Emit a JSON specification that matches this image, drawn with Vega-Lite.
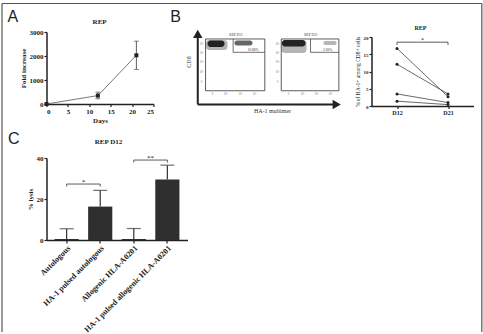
{
  "$schema": "https://vega.github.io/schema/vega-lite/v6.json",
  "background": "white",
  "padding": {"left": 0.5, "top": 2, "right": 0, "bottom": 0},
  "bounds": "flush",
  "spacing": 126,
  "config": {
    "view": {"stroke": null},
    "font": "Liberation Serif",
    "axis": {"grid": false, "domainColor": "#222", "domainWidth": 1.5, "tickColor": "#222", "tickWidth": 1.2, "tickSize": 2.5, "labelColor": "#222", "titleColor": "#222", "labelFont": "Liberation Serif", "titleFont": "Liberation Serif", "labelFontWeight": "bold", "titleFontWeight": "bold", "labelPadding": 1, "labelFontSize": 7, "titleFontSize": 7},
    "text": {"font": "Liberation Serif", "color": "#222"}
  },
  "vconcat": [
    {
      "hconcat": [
        {
          "width": 107, "height": 72,
          "data": {"values": [
            {"day": 0, "fold": 1, "lo": null, "hi": null},
            {"day": 12, "fold": 350, "lo": 215, "hi": 495},
            {"day": 21, "fold": 2030, "lo": 1440, "hi": 2620}
          ]},
          "encoding": {
            "x": {"field": "day", "type": "quantitative", "scale": {"domain": [0, 25], "nice": false}, "axis": {"values": [0, 5, 10, 15, 20, 25], "title": "Days", "titlePadding": 2}},
            "y": {"field": "fold", "type": "quantitative", "scale": {"domain": [0, 3000], "nice": false}, "axis": {"values": [0, 1000, 2000, 3000], "format": "d", "title": "Fold increase", "titlePadding": 3}}
          },
          "layer": [
            {"mark": {"type": "line", "color": "#555", "strokeWidth": 0.8}},
            {"transform": [{"filter": "datum.lo != null"}], "mark": {"type": "rule", "color": "#333", "strokeWidth": 0.8}, "encoding": {"y": {"field": "lo", "type": "quantitative"}, "y2": {"field": "hi"}}},
            {"transform": [{"filter": "datum.lo != null"}], "mark": {"type": "tick", "orient": "horizontal", "size": 5, "thickness": 0.8, "color": "#333"}, "encoding": {"y": {"field": "lo", "type": "quantitative"}}},
            {"transform": [{"filter": "datum.lo != null"}], "mark": {"type": "tick", "orient": "horizontal", "size": 5, "thickness": 0.8, "color": "#333"}, "encoding": {"y": {"field": "hi", "type": "quantitative"}}},
            {"mark": {"type": "square", "filled": true, "size": 16, "color": "#222", "opacity": 1}},
            {"data": {"values": [{"day": -7.87, "fold": 3429, "t": "A"}]}, "mark": {"type": "text", "font": "Liberation Sans", "fontSize": 16, "baseline": "alphabetic", "align": "center", "color": "#222"}, "encoding": {"text": {"field": "t"}}},
            {"data": {"values": [{"day": 12.4, "fold": 3354, "t": "REP"}]}, "mark": {"type": "text", "fontSize": 7, "fontWeight": "bold", "baseline": "alphabetic", "align": "center", "color": "#222"}, "encoding": {"text": {"field": "t"}}}
          ]
        },
        {
          "width": 166, "height": 85,
          "encoding": {
            "x": {"field": "x", "type": "quantitative", "scale": {"domain": [0, 100], "nice": false, "zero": false}, "axis": null},
            "y": {"field": "y", "type": "quantitative", "scale": {"domain": [0, 100], "nice": false, "zero": false}, "axis": null}
          },
          "layer": [
            {"data": {"values": [{"x": 15.96, "x2": 28.9, "y": 78.8, "y2": 90.6}, {"x": 61.4, "x2": 76.5, "y": 75.3, "y2": 90.6}, {"x": 86.7, "x2": 94.6, "y": 84.7, "y2": 89.4}]},
             "mark": {"type": "rect", "fill": "#b5b5b5", "cornerRadius": 3}, "encoding": {"x2": {"field": "x2"}, "y2": {"field": "y2"}}},
            {"data": {"values": [{"x": 33.1, "x2": 44.0, "y": 84.1, "y2": 90.0}]},
             "mark": {"type": "rect", "fill": "#666", "cornerRadius": 3}, "encoding": {"x2": {"field": "x2"}, "y2": {"field": "y2"}}},
            {"data": {"values": [{"x": 16.9, "x2": 27.1, "y": 82.4, "y2": 90.0}, {"x": 61.7, "x2": 75.9, "y": 82.9, "y2": 90.6}]},
             "mark": {"type": "rect", "fill": "#222", "cornerRadius": 3}, "encoding": {"x2": {"field": "x2"}, "y2": {"field": "y2"}}},
            {"data": {"values": [{"x": 15.7, "x2": 51.4, "y": 30.9, "y2": 91.8}, {"x": 61.3, "x2": 96.0, "y": 30.9, "y2": 91.8}]},
             "mark": {"type": "rect", "filled": false, "stroke": "#333", "strokeWidth": 0.8}, "encoding": {"x2": {"field": "x2"}, "y2": {"field": "y2"}}},
            {"data": {"values": [{"x": 32.3, "y": 91.8, "x2": 32.3, "y2": 76.1}, {"x": 32.3, "y": 76.1, "x2": 51.4, "y2": 76.1}, {"x": 78.9, "y": 91.8, "x2": 78.9, "y2": 76.1}, {"x": 78.9, "y": 76.1, "x2": 96.0, "y2": 76.1}]},
             "mark": {"type": "rule", "color": "#333", "strokeWidth": 0.7}, "encoding": {"x2": {"field": "x2"}, "y2": {"field": "y2"}}},
            {"data": {"values": [{"x": 11.0, "y": 14.7, "x2": 11.0, "y2": 96.5}, {"x": 11.0, "y": 14.7, "x2": 93.4, "y2": 14.7}]},
             "mark": {"type": "rule", "color": "#222", "strokeWidth": 2}, "encoding": {"x2": {"field": "x2"}, "y2": {"field": "y2"}}},
            {"data": {"values": [{"x": 11.0, "y": 97.9}]}, "mark": {"type": "point", "shape": "triangle-up", "filled": true, "size": 90, "color": "#222", "opacity": 1}},
            {"data": {"values": [{"x": 94.7, "y": 14.7}]}, "mark": {"type": "point", "shape": "triangle-right", "filled": true, "size": 90, "color": "#222", "opacity": 1}},
            {"data": {"values": [{"x": 34.0, "y": 96.8, "t": "REP D12"}, {"x": 79.1, "y": 96.8, "t": "REP D21"}, {"x": 44.3, "y": 78.8, "t": "16.80%"}, {"x": 89.2, "y": 78.8, "t": "2.60%"}]},
             "mark": {"type": "text", "fontSize": 3.5, "baseline": "middle", "color": "#333"}, "encoding": {"text": {"field": "t"}}},
            {"data": {"values": [
              {"x": 13.3, "y": 85.9, "t": "10⁴"}, {"x": 13.3, "y": 75.3, "t": "10³"}, {"x": 13.3, "y": 64.7, "t": "10²"}, {"x": 13.3, "y": 52.9, "t": "10¹"}, {"x": 13.3, "y": 41.2, "t": "0"},
              {"x": 19.9, "y": 27.1, "t": "0"}, {"x": 27.7, "y": 27.1, "t": "10²"}, {"x": 36.7, "y": 27.1, "t": "10³"}, {"x": 45.2, "y": 27.1, "t": "10⁴"},
              {"x": 59.0, "y": 85.9, "t": "10⁴"}, {"x": 59.0, "y": 75.3, "t": "10³"}, {"x": 59.0, "y": 64.7, "t": "10²"}, {"x": 59.0, "y": 52.9, "t": "10¹"}, {"x": 59.0, "y": 41.2, "t": "0"},
              {"x": 65.7, "y": 27.1, "t": "0"}, {"x": 74.1, "y": 27.1, "t": "10²"}, {"x": 82.5, "y": 27.1, "t": "10³"}, {"x": 91.0, "y": 27.1, "t": "10⁴"}
            ]},
             "mark": {"type": "text", "fontSize": 3, "baseline": "middle", "color": "#777"}, "encoding": {"text": {"field": "t"}}},
            {"data": {"values": [{"x": 5.7, "y": 64.7, "t": "CD8"}]}, "mark": {"type": "text", "fontSize": 6, "angle": 270, "baseline": "middle", "color": "#333"}, "encoding": {"text": {"field": "t"}}},
            {"data": {"values": [{"x": 56.0, "y": 7.1, "t": "HA-1 multimer"}]}, "mark": {"type": "text", "fontSize": 6, "baseline": "middle", "color": "#333"}, "encoding": {"text": {"field": "t"}}},
            {"data": {"values": [{"x": -2.4, "y": 112.1, "t": "B"}]}, "mark": {"type": "text", "font": "Liberation Sans", "fontSize": 16, "baseline": "alphabetic", "align": "center", "color": "#222"}, "encoding": {"text": {"field": "t"}}}
          ]
        },
        {
          "bounds": "flush",
          "spacing": 0,
          "vconcat": [
            {"width": 102, "height": 5, "data": {"values": [{}]}, "mark": {"type": "point", "opacity": 0}},
            {
              "width": 102, "height": 69,
              "data": {"values": [
                {"donor": "1", "day": 12, "pct": 16.7}, {"donor": "1", "day": 21, "pct": 2.7},
                {"donor": "2", "day": 12, "pct": 12.1}, {"donor": "2", "day": 21, "pct": 3.5},
                {"donor": "3", "day": 12, "pct": 3.5}, {"donor": "3", "day": 21, "pct": 1.0},
                {"donor": "4", "day": 12, "pct": 1.4}, {"donor": "4", "day": 21, "pct": 0.4}
              ]},
              "encoding": {
                "x": {"field": "day", "type": "quantitative", "scale": {"domain": [7.5, 25.5], "nice": false, "zero": false}, "axis": {"values": [12, 21], "labelExpr": "'D' + datum.value", "title": null, "labelFontSize": 6, "tickSize": 2.5}},
                "y": {"field": "pct", "type": "quantitative", "scale": {"domain": [0, 20], "nice": false}, "axis": {"values": [0, 5, 10, 15, 20], "labelFontSize": 5, "title": "% of HA-1+ among CD8+ cells", "titleFontSize": 5.5, "titleFontWeight": "normal", "titlePadding": 3}}
              },
              "layer": [
                {"mark": {"type": "line", "color": "#444", "strokeWidth": 0.8}, "encoding": {"detail": {"field": "donor"}}},
                {"mark": {"type": "circle", "size": 9, "color": "#222", "opacity": 1}},
                {"data": {"values": [{"a": 12, "b": 21, "y": 18.5, "yl": 17.7, "m": 16.5, "t": "*"}]},
                 "layer": [
                   {"mark": {"type": "rule", "color": "#333", "strokeWidth": 0.8}, "encoding": {"x": {"field": "a", "type": "quantitative"}, "x2": {"field": "b"}, "y": {"field": "y", "type": "quantitative"}}},
                   {"mark": {"type": "rule", "color": "#333", "strokeWidth": 0.8}, "encoding": {"x": {"field": "a", "type": "quantitative"}, "y": {"field": "y", "type": "quantitative"}, "y2": {"field": "yl"}}},
                   {"mark": {"type": "rule", "color": "#333", "strokeWidth": 0.8}, "encoding": {"x": {"field": "b", "type": "quantitative"}, "y": {"field": "y", "type": "quantitative"}, "y2": {"field": "yl"}}},
                   {"mark": {"type": "text", "fontSize": 6, "baseline": "alphabetic"}, "encoding": {"x": {"field": "m", "type": "quantitative"}, "y": {"field": "y", "type": "quantitative"}, "text": {"field": "t"}}}
                 ]},
                {"data": {"values": [{"day": 16.15, "pct": 22.0, "t": "REP"}]}, "mark": {"type": "text", "fontSize": 6, "fontWeight": "bold", "baseline": "alphabetic", "align": "center", "color": "#222"}, "encoding": {"text": {"field": "t"}}}
              ]
            }
          ]
        }
      ],
      "spacing": 26,
      "bounds": "flush"
    },
    {
      "width": 141, "height": 82,
      "resolve": {"scale": {"x": "independent"}},
      "layer": [
        {
          "data": {"values": [
            {"cond": "Autologous", "lysis": 0.5, "hi": 5.5},
            {"cond": "HA-1 pulsed autologous", "lysis": 16.3, "hi": 24.2},
            {"cond": "Allogenic HLA-A0201", "lysis": 0.5, "hi": 5.6},
            {"cond": "HA-1 pulsed allogenic HLA-A0201", "lysis": 29.5, "hi": 36.5}
          ]},
          "encoding": {
            "x": {"field": "cond", "type": "nominal", "sort": null, "scale": {"paddingInner": 0.28, "paddingOuter": 0.24}, "axis": {"title": null, "labelAngle": -45, "labelFontSize": 8, "tickSize": 3}},
            "y": {"field": "lysis", "type": "quantitative", "scale": {"domain": [0, 40], "nice": false}, "axis": {"values": [0, 10, 20, 30, 40], "title": "% lysis", "titlePadding": 3}}
          },
          "layer": [
            {"mark": {"type": "bar", "color": "#2f2f2f"}},
            {"mark": {"type": "rule", "color": "#333", "strokeWidth": 1.2}, "encoding": {"y2": {"field": "hi"}}},
            {"mark": {"type": "tick", "orient": "horizontal", "size": 14, "thickness": 1.2, "color": "#333"}, "encoding": {"y": {"field": "hi", "type": "quantitative"}}}
          ]
        },
        {
          "encoding": {
            "x": {"field": "x", "type": "quantitative", "scale": {"domain": [0, 4.2], "nice": false, "zero": false}, "axis": null}
          },
          "layer": [
            {"data": {"values": [{"x": 0.6, "b": 1.6, "y": 27.3, "yl": 26.1, "m": 1.1, "t": "*"}, {"x": 2.6, "b": 3.6, "y": 39.0, "yl": 37.8, "m": 3.1, "t": "**"}]},
             "layer": [
               {"mark": {"type": "rule", "color": "#333", "strokeWidth": 0.8}, "encoding": {"x2": {"field": "b"}, "y": {"field": "y", "type": "quantitative"}}},
               {"mark": {"type": "rule", "color": "#333", "strokeWidth": 0.8}, "encoding": {"y": {"field": "y", "type": "quantitative"}, "y2": {"field": "yl"}}},
               {"mark": {"type": "rule", "color": "#333", "strokeWidth": 0.8}, "encoding": {"x": {"field": "b", "type": "quantitative"}, "y": {"field": "y", "type": "quantitative"}, "y2": {"field": "yl"}}},
               {"mark": {"type": "text", "fontSize": 7, "baseline": "alphabetic"}, "encoding": {"x": {"field": "m", "type": "quantitative"}, "y": {"field": "y", "type": "quantitative"}, "text": {"field": "t"}}}
             ]},
            {"data": {"values": [{"x": -0.974, "y": 46.8, "t": "C"}]},
             "mark": {"type": "text", "font": "Liberation Sans", "fontSize": 16, "baseline": "alphabetic", "align": "center", "color": "#222"},
             "encoding": {"y": {"field": "y", "type": "quantitative"}, "text": {"field": "t"}}},
            {"data": {"values": [{"x": 1.847, "y": 46.6, "t": "REP D12"}]},
             "mark": {"type": "text", "fontSize": 7, "fontWeight": "bold", "baseline": "alphabetic", "align": "center", "color": "#222"},
             "encoding": {"y": {"field": "y", "type": "quantitative"}, "text": {"field": "t"}}},
            {"data": {"values": [{"x": -1.3256, "x2": -1.3256, "y": 115.37, "y2": -44.88}, {"x": -1.3256, "x2": 12.967, "y": 115.37, "y2": 115.37}, {"x": 12.967, "x2": 12.967, "y": 115.37, "y2": -44.88}]},
             "mark": {"type": "rule", "color": "#555", "strokeWidth": 1.2},
             "encoding": {"x2": {"field": "x2"}, "y": {"field": "y", "type": "quantitative"}, "y2": {"field": "y2"}}}
          ]
        }
      ]
    }
  ]
}
